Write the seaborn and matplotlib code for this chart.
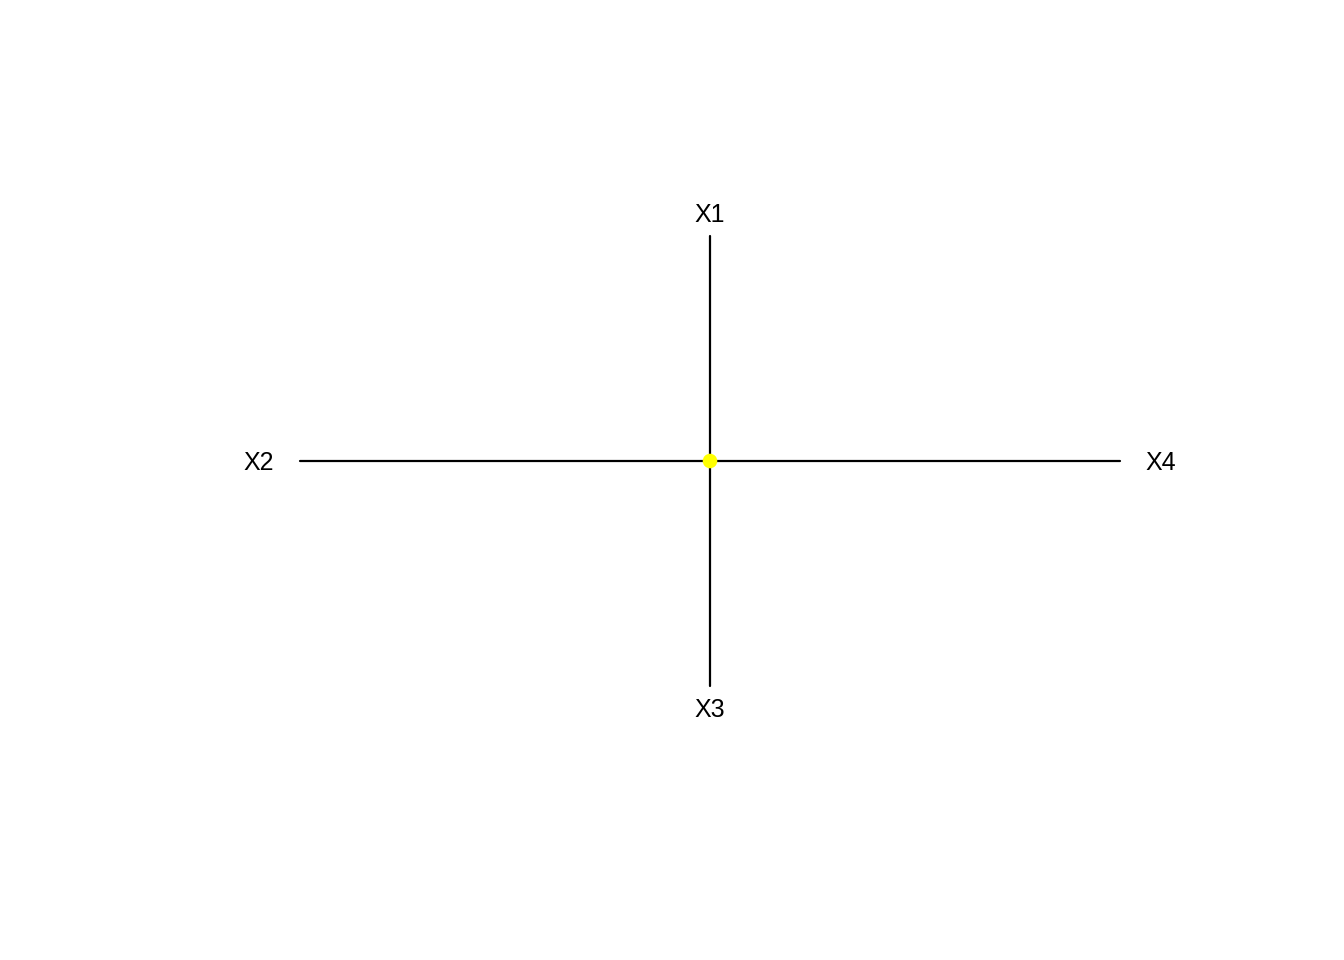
import numpy as np
import pandas as pd
import seaborn as sns
import matplotlib
matplotlib.use("Agg")
import matplotlib.pyplot as plt

variables = ["X1", "X2", "X3", "X4"]
angles_deg = [90, 180, 270, 0]
radius = [1.0, 1.0, 1.0, 1.0]
center_x = [0.0]
center_y = [0.0]

sns.set_style("white")
plt.rcParams["font.family"] = ["Liberation Sans", "DejaVu Sans"]

theta = np.deg2rad(angles_deg)
end_x = np.array(radius) * np.cos(theta)
end_y = np.array(radius) * np.sin(theta)

rows = []
for name, ex, ey in zip(variables, end_x, end_y):
    rows.append({"var": name, "x": center_x[0], "y": center_y[0], "step": 0})
    rows.append({"var": name, "x": ex, "y": ey, "step": 1})
spokes = pd.DataFrame(rows)

fig = plt.figure(figsize=(13.44, 9.6), dpi=100)
ax = fig.add_axes([218 / 1344, 229 / 960, 984 / 1344, 540 / 960])

sns.lineplot(data=spokes, x="x", y="y", units="var", estimator=None,
             sort=False, color="black", linewidth=1.6, ax=ax)
sns.scatterplot(x=center_x, y=center_y, color="#FFFF00", s=110,
                edgecolor="none", zorder=5, ax=ax)

# labels sit a little beyond the end of each spoke
for name, ex, ey in zip(variables, end_x, end_y):
    ax.text(ex * 1.1, ey * 1.1 - 0.008, name, ha="center", va="center",
            fontsize=18, color="black")

ax.set_xlim(-1.2, 1.2)
ax.set_ylim(-1.2, 1.2)
ax.set_axis_off()

fig.savefig("out.png", dpi=100, facecolor="white")
